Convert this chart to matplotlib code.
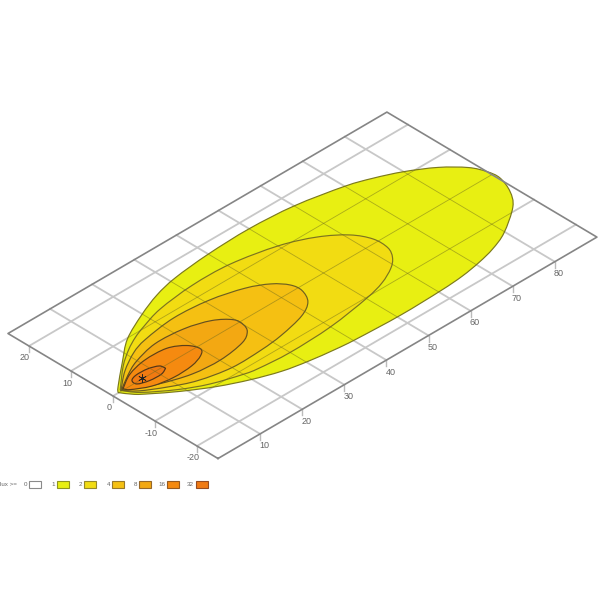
import numpy as np
import matplotlib
matplotlib.use('Agg')
import matplotlib.pyplot as plt
from matplotlib.path import Path
from matplotlib.patches import PathPatch, Rectangle
from matplotlib.transforms import Affine2D

plt.rcParams['font.family'] = ['Liberation Sans', 'DejaVu Sans']

# ground plane range, metres
x_range = [0, 90]
y_range = [-25, 25]
x_ticks = [10, 20, 30, 40, 50, 60, 70, 80]
y_ticks = [-20, -10, 0, 10, 20]

# isolux outlines (x = distance, y = lateral)
lux1_x = [1.3, 2.5, 7.9, 13.2, 19.8, 25.6, 31.2, 40, 50, 60, 70, 75, 80, 85, 88.6, 90, 90.3,
          88.8, 86, 79.7, 75.1, 70.8, 66, 60.5, 50.8, 40.5, 36, 30.3, 25.2, 19.7, 14.3, 9, 5, 2.9, 1.3]
lux1_y = [0.1, 1.3, 5.7, 9.8, 13, 15.2, 16.5, 17.4, 17.7, 17, 15, 13.3, 11, 7.8, 4.2, 1.2, -1.6,
          -5.5, -9, -13.2, -15.1, -16.2, -17, -17.4, -17.6, -17.2, -16.8, -16, -14.9, -12.9, -10.3, -7, -4, -2.2, 0.1]
lux2_x = [2, 7.2, 11.2, 14.5, 17.7, 23.2, 31.8, 40.6, 50.1, 56.5, 60.8, 62.8, 62.8, 61.4, 59,
          55, 50, 40, 30, 23, 20, 14, 9, 4, 2]
lux2_y = [0.3, 4.8, 7.5, 9.2, 10.4, 12, 13, 12.8, 10.8, 8, 4.6, 1, -2.5, -5, -7,
          -8.9, -10.2, -11.7, -12.1, -11.6, -11, -9, -6.3, -2.5, 0.3]
lux4_x = [2.1, 6.4, 11.2, 15.3, 23, 30.8, 37.5, 41.5, 43.6, 43.9, 42.3, 38.7, 32.4, 27, 20, 13.3, 8.5, 4.1, 2.1]
lux4_y = [0.2, 3.6, 6.3, 7.6, 8.6, 8, 6.2, 4, 1.5, -1, -4, -6.1, -7.6, -8.2, -8.3, -6.9, -4.7, -2, 0.2]
lux8_x = [2.4, 5.9, 9.7, 15.6, 22, 27, 29.8, 30, 29, 26.2, 20.2, 13.9, 8, 3.9, 2.4]
lux8_y = [0.3, 2.4, 4.2, 5.6, 5.2, 3.6, 1.2, -1, -2.9, -4.5, -5.4, -4.9, -3, -0.9, 0.3]
lux16_x = [2.7, 6.4, 11, 16, 19, 20, 18.6, 15.5, 11, 6.7, 3.3, 2.7]
lux16_y = [0.3, 2.4, 3.5, 3.3, 1.5, -0.8, -2.2, -3.2, -3.4, -2.6, -0.7, 0.3]
lux32_x = [11.9, 11.6, 9.6, 7, 5.4, 5.3, 7.5, 10.2, 11.9]
lux32_y = [-0.6, 0.6, 1.4, 1.5, 0.9, -0.4, -1.2, -1.3, -0.6]
lamp_x = [7]
lamp_y = [0.2]

legend_labels = ['0', '1', '2', '4', '8', '16', '32']
level_colors = ['#ffffff', '#e8ef12', '#f2dc12', '#f5c012', '#f3a812', '#f58a10', '#f07a12']
legend_edges = ['#8a8a8a', '#8f9420', '#96892a', '#97782a', '#96682a', '#965a20', '#964c20']
outline_colors = ['#7c7a1c', '#7c7420', '#6e6020', '#665020', '#5c4018', '#503418']


def smooth_path(xs, ys):
    # catmull-rom through the read points as bezier segments, tip stays sharp
    pts = np.column_stack([xs, ys])
    verts = [pts[0]]
    codes = [Path.MOVETO]
    n = len(pts)
    for i in range(n - 1):
        prev = pts[max(i - 1, 0)]
        nxt = pts[min(i + 2, n - 1)]
        verts += [pts[i] + (pts[i + 1] - prev) / 6, pts[i + 1] - (nxt - pts[i]) / 6, pts[i + 1]]
        codes += [Path.CURVE4] * 3
    return Path(verts, codes)


fig = plt.figure(figsize=(6, 6), dpi=100)
ax = fig.add_axes([0, 0, 1, 1])
ax.set_xlim(0, 600)
ax.set_ylim(600, 0)
ax.axis('off')

# oblique view of the ground plane
proj = Affine2D.from_values(4.21, -2.46, -4.2, -2.5, 113, 396)
ground = proj + ax.transData

outlines = [(lux1_x, lux1_y), (lux2_x, lux2_y), (lux4_x, lux4_y),
            (lux8_x, lux8_y), (lux16_x, lux16_y), (lux32_x, lux32_y)]
patches = []
for k, (xs, ys) in enumerate(outlines):
    patches.append(ax.add_patch(PathPatch(smooth_path(xs, ys), facecolor=level_colors[k + 1],
                                          edgecolor=outline_colors[k], lw=0.85,
                                          transform=ground, zorder=2 + k)))

# light grid on the paper, thin darker grid inside the lit area
for t in x_ticks:
    ax.plot([t, t], y_range, color='#c8c8c8', lw=1.3, transform=ground, zorder=1)
    inner, = ax.plot([t, t], y_range, color='#6e6a1e', alpha=0.5, lw=0.6, transform=ground, zorder=10)
    inner.set_clip_path(patches[0])
    px, py = proj.transform((t, y_range[0]))
    ax.plot([px, px], [py, py + 6], color='#bbbbbb', lw=1, zorder=10)
    ax.text(px + 4, py + 12, str(t), fontsize=6.5, color='#666666', ha='center', va='center')
for t in y_ticks:
    ax.plot(x_range, [t, t], color='#c8c8c8', lw=1.3, transform=ground, zorder=1)
    inner, = ax.plot(x_range, [t, t], color='#6e6a1e', alpha=0.5, lw=0.6, transform=ground, zorder=10)
    inner.set_clip_path(patches[0])
    px, py = proj.transform((x_range[0], t))
    ax.plot([px, px], [py, py + 6], color='#bbbbbb', lw=1, zorder=10)
    ax.text(px - 4, py + 12, str(t), fontsize=6.5, color='#666666', ha='center', va='center')

frame_x = [x_range[0], x_range[1], x_range[1], x_range[0], x_range[0]]
frame_y = [y_range[0], y_range[0], y_range[1], y_range[1], y_range[0]]
ax.plot(frame_x, frame_y, color='#858585', lw=1.2, transform=ground, zorder=11)

ax.plot(lamp_x, lamp_y, marker=(6, 2, 0), ms=6, mew=0.5, color='#222222', ls='none',
        transform=ground, zorder=12)

# legend strip
ax.text(0, 484.5, 'lux >=', fontsize=4.5, color='#666666', ha='left', va='center')
box_left = [29, 56.5, 84, 112, 139, 167, 196]
for lab, left, fc, ec in zip(legend_labels, box_left, level_colors, legend_edges):
    ax.add_patch(Rectangle((left, 481), 12, 7, facecolor=fc, edgecolor=ec, lw=0.8))
    ax.text(left - 2, 484.5, lab, fontsize=4.5, color='#666666', ha='right', va='center')

fig.savefig('out.png', dpi=100)
